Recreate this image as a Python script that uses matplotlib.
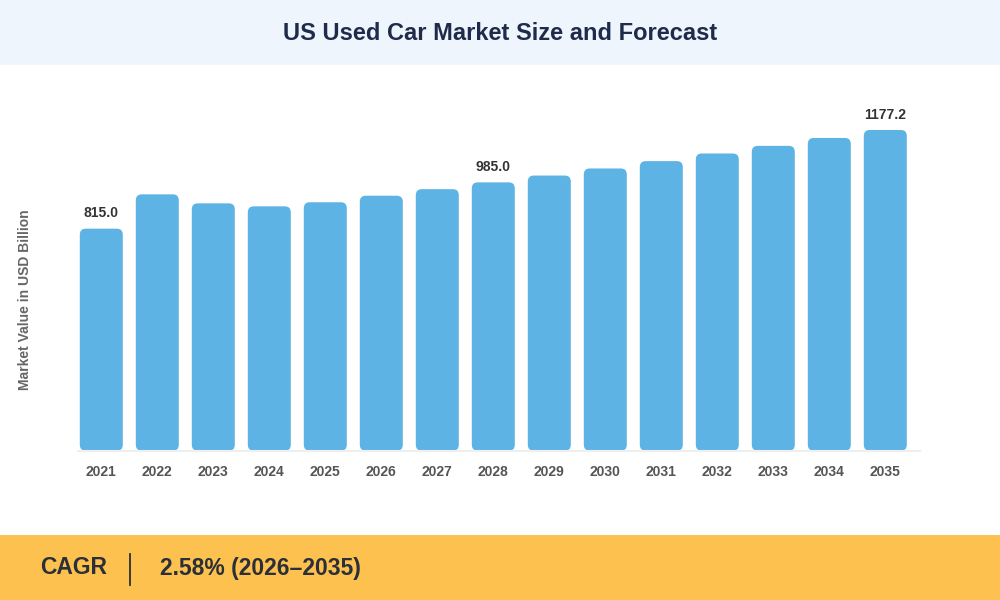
import matplotlib
matplotlib.use("Agg")
import matplotlib.pyplot as plt
from matplotlib.patches import FancyBboxPatch, Rectangle
from matplotlib.lines import Line2D

years = ["2021", "2022", "2023", "2024", "2025", "2026", "2027", "2028",
         "2029", "2030", "2031", "2032", "2033", "2034", "2035"]
values = [815.0, 941, 908, 897, 912, 936, 960, 985.0,
          1010, 1036, 1063, 1091, 1119, 1148, 1177.2]
labeled = {"2021": "815.0", "2028": "985.0", "2035": "1177.2"}
title = "US Used Car Market Size and Forecast"
ylabel = "Market Value in USD Billion"
cagr_label = "CAGR"
cagr_value = "2.58% (2026–2035)"

plt.rcParams['font.family'] = ['Liberation Sans', 'DejaVu Sans']

W, H = 1000, 600
fig = plt.figure(figsize=(10, 6), dpi=100)
fig.patch.set_facecolor("white")

# header band
fig.patches.append(FancyBboxPatch((0, 1 - 65 / H), 1, 65 / H + 0.05,
                                  boxstyle="round,pad=0,rounding_size=0.012",
                                  transform=fig.transFigure, facecolor="#EFF5FC",
                                  edgecolor="none", zorder=0))
fig.patches.append(Rectangle((0, 1 - 65 / H), 1, 0.03, transform=fig.transFigure,
                             facecolor="#EFF5FC", edgecolor="none", zorder=0))
fig.text(0.5, 1 - 34 / H, title, ha="center", va="center", fontsize=17,
         fontweight="bold", color="#1E2B4A")

# footer band
fig.patches.append(FancyBboxPatch((0, -0.05), 1, 65 / H + 0.05,
                                  boxstyle="round,pad=0,rounding_size=0.02",
                                  transform=fig.transFigure, facecolor="#FDC14F",
                                  edgecolor="none", zorder=0))
fig.patches.append(Rectangle((0.02, 0), 0.98, 65 / H, transform=fig.transFigure,
                             facecolor="#FDC14F", edgecolor="none", zorder=0))
fig.patches.append(Rectangle((0, 0.03), 0.05, 65 / H - 0.03, transform=fig.transFigure,
                             facecolor="#FDC14F", edgecolor="none", zorder=0))
fig.text(40 / W, 1 - 568 / H, cagr_label, ha="left", va="center", fontsize=16.5,
         fontweight="bold", color="#2B2F38")
fig.lines.append(Line2D([130 / W, 130 / W], [1 - 554 / H, 1 - 585 / H],
                        transform=fig.transFigure, color="#2B2F38", lw=1.3))
fig.text(160 / W, 1 - 568 / H, cagr_value, ha="left", va="center", fontsize=16.5,
         fontweight="bold", color="#2B2F38")

# axes
left_px, right_px = 78, 920
top_px, base_px = 100, 450.7
ax = fig.add_axes([left_px / W, 1 - base_px / H, (right_px - left_px) / W,
                   (base_px - top_px) / H])
ax.set_facecolor("none")
pitch = 56.0
xmin = (left_px - 101.3) / pitch
xmax = (right_px - 101.3) / pitch
ax.set_xlim(xmin, xmax)
px_per_unit = 320.7 / 1177.2
ymax = (base_px - top_px) / px_per_unit
ax.set_ylim(0, ymax)

x = list(range(len(years)))
bw = 43 / pitch
bars = ax.bar(x, values, width=bw, color="none")
aspect = pitch / px_per_unit
for b in bars:
    b.set_visible(False)
    p = FancyBboxPatch((b.get_x(), 0), b.get_width(), b.get_height(),
                       boxstyle="round,pad=0,rounding_size=%f" % (6 / pitch),
                       mutation_aspect=aspect, facecolor="#5EB3E5",
                       edgecolor="none", zorder=2)
    ax.add_patch(p)

for i, (yr, v) in enumerate(zip(years, values)):
    if yr in labeled:
        ax.annotate(labeled[yr], (i, v), xytext=(0, 6), textcoords="offset points",
                    ha="center", va="bottom", fontsize=10, fontweight="bold",
                    color="#333333")

for s in ["top", "right", "left"]:
    ax.spines[s].set_visible(False)
ax.spines["bottom"].set_color("#EEEEEE")
ax.spines["bottom"].set_linewidth(1.5)
ax.set_yticks([])
ax.set_xticks(x)
ax.set_xticklabels(years, fontsize=10, fontweight="bold", color="#555555")
ax.tick_params(axis="x", length=0, pad=10)

fig.text(25 / W, 1 - 300 / H, ylabel, rotation=90, ha="center", va="center",
         fontsize=10, fontweight="bold", color="#666666")

fig.savefig("out.png", dpi=100)
